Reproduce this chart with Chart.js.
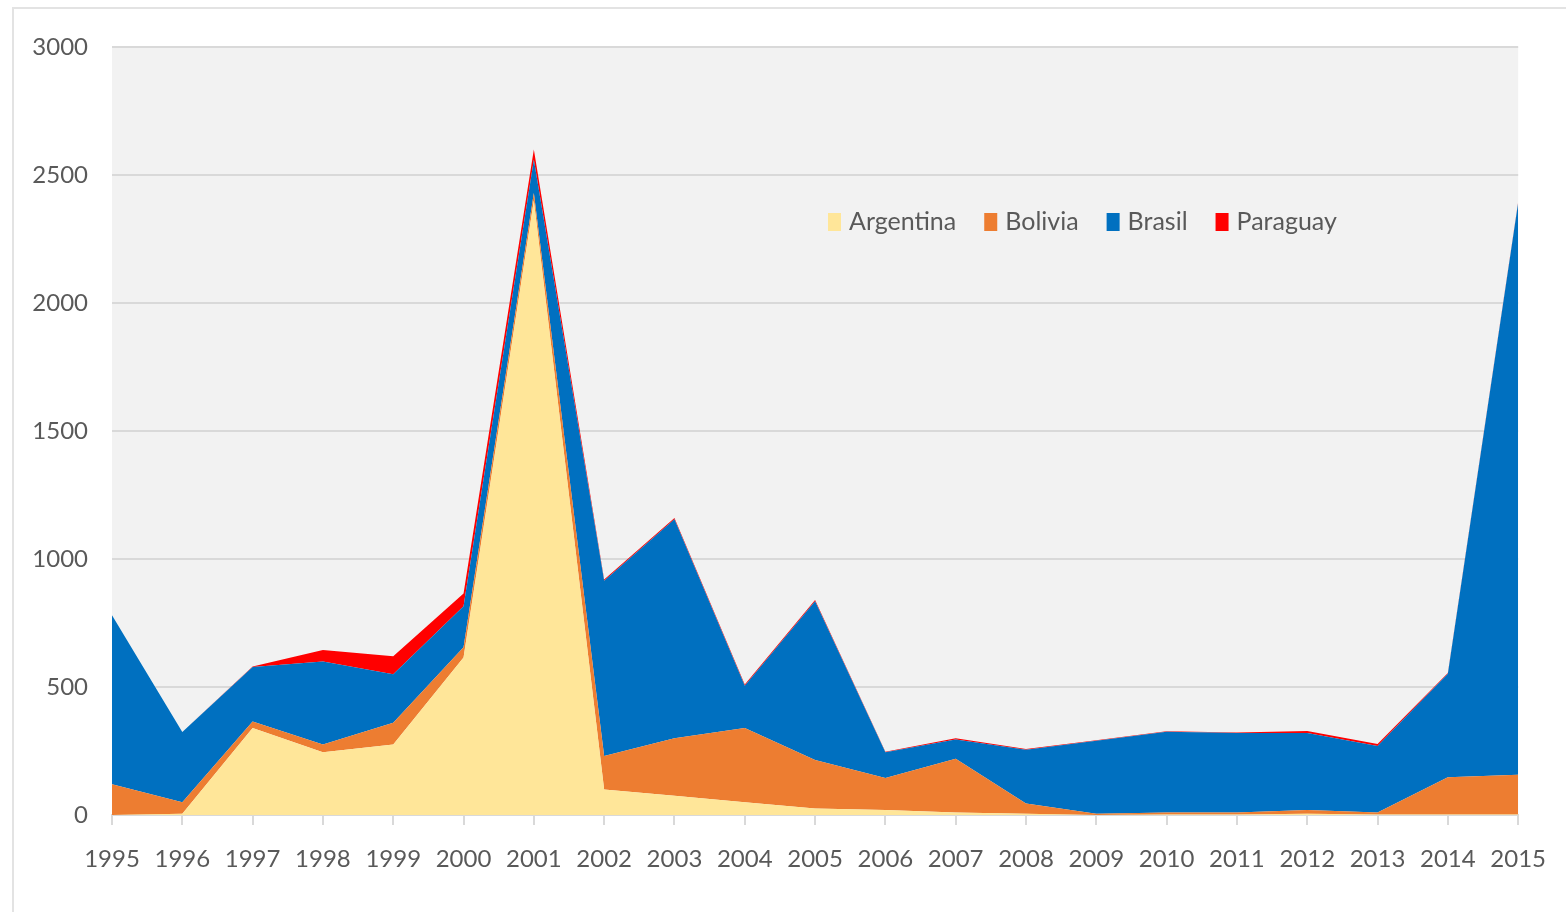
<!DOCTYPE html>
<html>
<head>
<meta charset="utf-8">
<script src="https://cdn.jsdelivr.net/npm/chart.js@4/dist/chart.umd.min.js"></script>
<style>
  html, body { margin: 0; padding: 0; background: #fff; }
  #wrap { position: relative; width: 1566px; height: 912px; overflow: hidden; }
  #frame { position: absolute; left: 12px; top: 7px; width: 1600px; height: 1000px;
           border-top: 2px solid #e3e3e3; border-left: 2px solid #e3e3e3; }
  #chart { position: absolute; left: 0; top: 0; }
</style>
</head>
<body>
<div id="wrap">
  <div id="frame"></div>
  <canvas id="chart" width="1566" height="912"></canvas>
</div>
<script>
// years on the x axis
const years = ['1995', '1996', '1997', '1998', '1999', '2000', '2001', '2002', '2003', '2004', '2005',
               '2006', '2007', '2008', '2009', '2010', '2011', '2012', '2013', '2014', '2015'];

// values per country (stacked)
const argentina = [0, 5, 340, 245, 275, 615, 2400, 100, 75, 50, 25, 20, 10, 5, 0, 2, 2, 5, 2, 2, 2];
const bolivia   = [120, 45, 25, 30, 85, 40, 30, 130, 225, 290, 190, 125, 210, 40, 5, 8, 8, 15, 8, 145, 155];
const brasil    = [660, 274, 213, 325, 190, 160, 130, 685, 855, 165, 620, 100, 75, 210, 285, 315, 310, 300, 260, 405, 2235];
const paraguay  = [0, 0, 2, 45, 70, 50, 40, 5, 5, 5, 5, 2, 5, 3, 2, 2, 2, 8, 7, 3, 3];

const yTicks = [0, 500, 1000, 1500, 2000, 2500, 3000];

const FONT = "Lato, 'Open Sans', sans-serif";
const TEXT = '#595959';
const GRID = '#d9d9d9';

// grey plot background
const plotBg = {
    id: 'plotBg',
    beforeDraw(chart) {
        const { ctx, chartArea: a } = chart;
        ctx.save();
        ctx.fillStyle = '#f2f2f2';
        ctx.fillRect(a.left, a.top, a.right - a.left, a.bottom - a.top);
        ctx.restore();
    }
};

// legend drawn inside the plot, one row
const innerLegend = {
    id: 'innerLegend',
    afterDraw(chart) {
        const ctx = chart.ctx;
        ctx.save();
        ctx.font = '25px ' + FONT;
        ctx.textBaseline = 'middle';
        let x = 828;
        const y = 222;
        chart.data.datasets.forEach(ds => {
            ctx.fillStyle = ds.backgroundColor;
            ctx.fillRect(x, y - 9, 13, 18);
            x += 21;
            ctx.fillStyle = TEXT;
            ctx.fillText(ds.label, x, y);
            x += ctx.measureText(ds.label).width + 28;
        });
        ctx.restore();
    }
};

const area = (label, data, color, fill) => ({
    label: label,
    data: data,
    backgroundColor: color,
    borderColor: color,
    borderWidth: 0,
    pointRadius: 0,
    tension: 0,
    fill: fill
});

new Chart(document.getElementById('chart'), {
    type: 'line',
    data: {
        labels: years,
        datasets: [
            area('Argentina', argentina, '#FFE699', 'origin'),
            area('Bolivia', bolivia, '#ED7D31', '-1'),
            area('Brasil', brasil, '#0070C0', '-1'),
            area('Paraguay', paraguay, '#FF0000', '-1')
        ]
    },
    options: {
        responsive: false,
        animation: false,
        layout: { padding: { left: 0, top: 47, right: 44, bottom: 0 } },
        plugins: {
            legend: { display: false },
            tooltip: { enabled: false }
        },
        scales: {
            x: {
                offset: false,
                grid: { drawOnChartArea: false, drawTicks: true, tickLength: 10, color: GRID, lineWidth: 2 },
                border: { color: GRID, width: 2 },
                ticks: { color: TEXT, font: { family: FONT, size: 24 }, padding: 20, maxRotation: 0, autoSkip: false },
                afterFit: s => { s.height = 97; }
            },
            y: {
                stacked: true,
                min: 0,
                max: 3000,
                afterBuildTicks: s => { s.ticks = yTicks.map(v => ({ value: v })); },
                grid: { color: GRID, lineWidth: 2, drawTicks: false },
                border: { display: false },
                ticks: { color: TEXT, font: { family: FONT, size: 24 }, padding: 24, callback: v => String(v) },
                afterFit: s => { s.width = 112; }
            }
        }
    },
    plugins: [plotBg, innerLegend]
});
</script>
</body>
</html>
